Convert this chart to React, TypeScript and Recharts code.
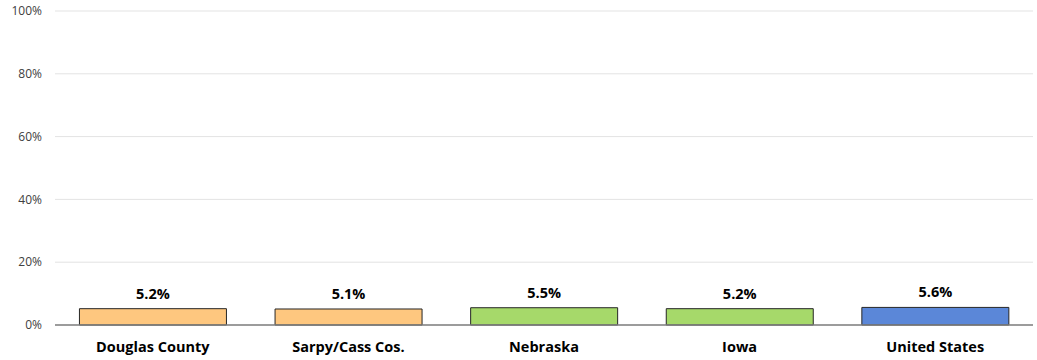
import { BarChart, Bar, XAxis, YAxis, CartesianGrid, Cell, LabelList } from "recharts";

const regions = ["Douglas County", "Sarpy/Cass Cos.", "Nebraska", "Iowa", "United States"];
const rates = [5.2, 5.1, 5.5, 5.2, 5.6];
const barColors = ["#fec77f", "#fec77f", "#a6d96a", "#a6d96a", "#5b87d8"];
const yTicks = [0, 20, 40, 60, 80, 100];

const data = regions.map((name, i) => ({ name, rate: rates[i] }));

const FONT = "'Open Sans', 'Noto Sans', sans-serif";

export default function App() {
  return (
    <div style={{ position: "absolute", left: 0, top: 0, width: 1037, height: 360, background: "#fff" }}>
      <BarChart
        width={1037}
        height={360}
        data={data}
        margin={{ top: 11, right: 4, left: 0, bottom: 0 }}
        barCategoryGap="12.5%"
      >
        <CartesianGrid stroke="#e3e3e3" vertical={false} />
        <XAxis
          dataKey="name"
          tickLine={false}
          axisLine={{ stroke: "#7f7f7f", strokeWidth: 1.5 }}
          height={35}
          tick={{ fill: "#000", fontSize: 14.5, fontWeight: 700, fontFamily: FONT }}
          tickMargin={11}
          interval={0}
        />
        <YAxis
          domain={[0, 100]}
          ticks={yTicks}
          tickFormatter={(v) => `${v}%`}
          tickLine={false}
          axisLine={false}
          width={55}
          tickMargin={7}
          tick={{ fill: "#404040", fontSize: 12, fontFamily: FONT }}
        />
        <Bar dataKey="rate" stroke="#262626" strokeWidth={1} isAnimationActive={false}>
          {data.map((d, i) => (
            <Cell key={d.name} fill={barColors[i]} />
          ))}
          <LabelList
            dataKey="rate"
            position="top"
            offset={10}
            formatter={(v: any) => `${Number(v).toFixed(1)}%`}
            style={{ fill: "#000", fontSize: 14.5, fontWeight: 700, fontFamily: FONT }}
          />
        </Bar>
      </BarChart>
    </div>
  );
}
